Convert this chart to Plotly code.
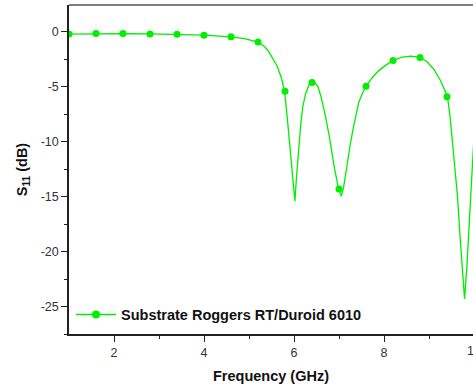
import plotly.graph_objects as go

# Smooth simulated curve
freq_curve = [1.0, 1.6, 2.2, 2.8, 3.4, 4.0, 4.6, 4.9, 5.2, 5.35, 5.44, 5.53, 5.63, 5.72, 5.79,
              5.85, 5.90, 5.94, 5.98, 6.02, 6.06, 6.11, 6.15, 6.20, 6.26, 6.33, 6.40, 6.46,
              6.53, 6.60, 6.68, 6.78, 6.89, 6.99, 7.05, 7.10, 7.15, 7.21, 7.26, 7.32, 7.37,
              7.44, 7.52, 7.60, 7.75, 7.89, 8.05, 8.2, 8.4, 8.6, 8.8, 8.95, 9.11, 9.25, 9.35,
              9.41, 9.47, 9.52, 9.58, 9.63, 9.70, 9.75, 9.79, 9.84, 9.89, 9.95, 10.0]
s11_curve = [-0.2, -0.15, -0.15, -0.18, -0.22, -0.3, -0.45, -0.62, -0.92, -1.35, -1.8, -2.4,
             -3.15, -4.2, -5.4, -7.8, -10.2, -12.0, -13.8, -15.4, -13.0, -10.4, -8.4, -6.7,
             -5.6, -4.85, -4.6, -4.6, -4.95, -5.9, -7.3, -9.4, -12.2, -14.3, -14.95, -14.2,
             -12.8, -11.3, -10.0, -8.7, -7.6, -6.4, -5.6, -4.95, -4.1, -3.5, -3.0, -2.6, -2.3,
             -2.2, -2.32, -2.7, -3.4, -4.4, -5.3, -5.9, -7.8, -10.0, -12.4, -14.8, -19.2,
             -22.2, -24.3, -21.5, -18.0, -13.2, -9.5]

# Markers (sampled points)
freq_pts = [1.0, 1.6, 2.2, 2.8, 3.4, 4.0, 4.6, 5.2, 5.8, 6.4, 7.0, 7.6, 8.2, 8.8, 9.4]
s11_pts = [-0.2, -0.15, -0.15, -0.18, -0.22, -0.3, -0.45, -0.92, -5.4, -4.6, -14.3, -4.95,
           -2.6, -2.32, -5.9]

x_ticks = [2, 4, 6, 8]
x_edge_tick = 10
y_ticks = [0, -5, -10, -15, -20, -25]
series_name = "Substrate Roggers RT/Duroid 6010"

green = "#00ee00"
font_family = "Liberation Sans, Arial, sans-serif"
x_range = [1, 1 + 404 / 45]

fig = go.Figure()
fig.add_trace(go.Scatter(x=freq_curve, y=s11_curve, mode="lines",
                         line=dict(color=green, width=1.3), showlegend=False,
                         hoverinfo="skip"))
fig.add_trace(go.Scatter(x=freq_pts, y=s11_pts, mode="markers",
                         marker=dict(color=green, size=7), showlegend=False))
# legend entry (line + marker)
fig.add_trace(go.Scatter(x=[None], y=[None], mode="lines+markers", name=series_name,
                         line=dict(color=green, width=1.3),
                         marker=dict(color=green, size=8)))

fig.update_layout(
    width=473, height=386,
    margin=dict(l=69, r=0, t=5, b=52),
    paper_bgcolor="white", plot_bgcolor="white",
    font=dict(family=font_family, color="#222"),
    showlegend=True,
    legend=dict(x=0.005, y=0.059, xanchor="left", yanchor="middle",
                bgcolor="rgba(0,0,0,0)", itemwidth=40,
                font=dict(size=14.5, color="#111", family=font_family, weight="bold")),
)
fig.update_xaxes(
    range=x_range, tickvals=x_ticks, ticktext=[str(v) for v in x_ticks],
    showgrid=False, zeroline=False, showline=True, linecolor="#222", linewidth=1.5,
    ticks="outside", ticklen=6, tickwidth=1.3, tickcolor="#222",
    tickfont=dict(size=12.5, color="#333"),
    minor=dict(tickvals=[3, 5, 7, 9], ticks="outside", ticklen=3, tickwidth=1.2, tickcolor="#222"),
    title=dict(text="<b>Frequency (GHz)</b>", font=dict(size=14.5, color="#111"), standoff=12),
)
fig.update_yaxes(
    range=[-27.5, 2.45], tickvals=y_ticks, ticktext=[str(v) for v in y_ticks],
    showgrid=False, zeroline=False, showline=True, linecolor="#222", linewidth=1.5,
    ticks="outside", ticklen=6, tickwidth=1.3, tickcolor="#222",
    tickfont=dict(size=12.5, color="#333"),
    minor=dict(tickvals=[-2.5, -7.5, -12.5, -17.5, -22.5, -27.5], ticks="outside",
               ticklen=3, tickwidth=1.2, tickcolor="#222"),
    title=dict(text="<b>S<sub>11</sub> (dB)</b>", font=dict(size=14.5, color="#111"), standoff=10),
)
# top frame line
fig.add_shape(type="line", xref="paper", yref="paper", x0=0, x1=1, y0=1, y1=1,
              line=dict(color="#555", width=1.5))
# partially cut "10" tick label at right edge (paper coords just beyond plot)
x_edge_paper = (x_edge_tick - x_range[0]) / (x_range[1] - x_range[0])
fig.add_annotation(x=x_edge_paper, xref="paper", xanchor="center", y=0, yref="paper",
                   yanchor="top", yshift=-8, text=str(x_edge_tick), showarrow=False,
                   font=dict(size=12.5, color="#333"))

fig.write_html("out.html")
